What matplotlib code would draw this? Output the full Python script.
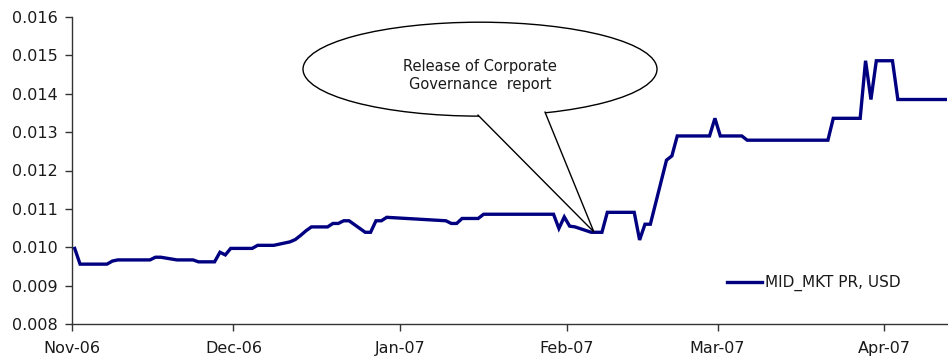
import matplotlib
matplotlib.use("Agg")
import matplotlib.pyplot as plt
import matplotlib.dates as mdates
from matplotlib.patches import Ellipse, Polygon
import pandas as pd

# daily mid-market price
dates = ["2006-11-01", "2006-11-02", "2006-11-07", "2006-11-08", "2006-11-09",
         "2006-11-15", "2006-11-16", "2006-11-17", "2006-11-20", "2006-11-23",
         "2006-11-24", "2006-11-27", "2006-11-28", "2006-11-29", "2006-11-30",
         "2006-12-04", "2006-12-05", "2006-12-08", "2006-12-11", "2006-12-12",
         "2006-12-13", "2006-12-14", "2006-12-15", "2006-12-18", "2006-12-19",
         "2006-12-20", "2006-12-21", "2006-12-22", "2006-12-25", "2006-12-26",
         "2006-12-27", "2006-12-28", "2006-12-29", "2007-01-09", "2007-01-10",
         "2007-01-11", "2007-01-12", "2007-01-15", "2007-01-16", "2007-01-29",
         "2007-01-30", "2007-01-31", "2007-02-01", "2007-02-02", "2007-02-05",
         "2007-02-07", "2007-02-08", "2007-02-13", "2007-02-14", "2007-02-15",
         "2007-02-16", "2007-02-19", "2007-02-20", "2007-02-21", "2007-02-27",
         "2007-02-28", "2007-03-01", "2007-03-05", "2007-03-06", "2007-03-21",
         "2007-03-22", "2007-03-27", "2007-03-28", "2007-03-29", "2007-03-30",
         "2007-04-02", "2007-04-03", "2007-04-12"]
prices = [0.00997, 0.00956, 0.00956, 0.00964, 0.00967,
          0.00967, 0.00974, 0.00974, 0.00967, 0.00967,
          0.00962, 0.00962, 0.00987, 0.00980, 0.00997,
          0.00997, 0.01005, 0.01005, 0.01014, 0.01020,
          0.01031, 0.01043, 0.01053, 0.01053, 0.01062,
          0.01062, 0.01069, 0.01069, 0.01039, 0.01039,
          0.01069, 0.01069, 0.01078, 0.01069, 0.01062,
          0.01062, 0.01075, 0.01075, 0.01086, 0.01086,
          0.01049, 0.01079, 0.01055, 0.01053, 0.01039,
          0.01039, 0.01091, 0.01091, 0.01019, 0.01060,
          0.01060, 0.01227, 0.01238, 0.01290, 0.01290,
          0.01336, 0.01290, 0.01290, 0.01279, 0.01279,
          0.01336, 0.01336, 0.01486, 0.01385, 0.01486,
          0.01486, 0.01385, 0.01385]
series_name = "MID_MKT PR, USD"
callout_text = "Release of Corporate\nGovernance  report"
callout_date = "2007-02-06"
callout_value = 0.0104

navy = "#000080"
txt = "#1a1a1a"

x = pd.to_datetime(dates) + pd.Timedelta(hours=12)  # points sit mid-day

fig = plt.figure(figsize=(9.48, 3.56), dpi=100)
ax = fig.add_axes([72 / 948, 32 / 356, 874.8 / 948, 307 / 356])
ax.plot(x, prices, color=navy, lw=2.4, label=series_name, zorder=3,
        solid_joinstyle="miter")

start = pd.Timestamp("2006-11-01")
ax.set_xlim(start, start + pd.Timedelta(days=162.6))
ax.set_ylim(0.008, 0.016)
ax.set_yticks([0.008 + 0.001 * i for i in range(9)])
ax.yaxis.set_major_formatter(plt.FormatStrFormatter("%.3f"))
ax.xaxis.set_major_locator(mdates.MonthLocator())
ax.xaxis.set_major_formatter(mdates.DateFormatter("%b-%y"))

for s in ["top", "right"]:
    ax.spines[s].set_visible(False)
for s in ["left", "bottom"]:
    ax.spines[s].set_color("#333333")
    ax.spines[s].set_linewidth(1)
ax.tick_params(axis="both", direction="out", length=5, width=1,
               color="#333333", labelsize=11.5, labelcolor=txt)
ax.tick_params(axis="y", pad=5)
ax.tick_params(axis="x", pad=7)

# callout bubble
d0 = mdates.date2num(start)
px = 5.38  # pixels per day
py = 38400  # pixels per unit price
ell_c = (d0 + (480 - 72) / px, 0.008 + (324 - 69) / py)
ell = Ellipse(ell_c, 354 / px, 94 / py, facecolor="white", edgecolor="black",
              lw=1, zorder=4, clip_on=False)
ax.add_patch(ell)
tip = (mdates.date2num(pd.Timestamp(callout_date)), callout_value)
b1 = (d0 + (478 - 72) / px, 0.008 + (324 - 115) / py)
b2 = (d0 + (545 - 72) / px, 0.008 + (324 - 112) / py)
inner1 = (b1[0] + 2 / px, b1[1] + 6 / py)
inner2 = (b2[0] - 2 / px, b2[1] + 6 / py)
ax.add_patch(Polygon([inner1, b1, tip, b2, inner2], closed=True,
                     facecolor="white", edgecolor="none", zorder=4.5,
                     clip_on=False))
ax.plot([b1[0], tip[0], b2[0]], [b1[1], tip[1], b2[1]], color="black",
        lw=1, zorder=4.6, clip_on=False)
ax.text(ell_c[0], 0.008 + (324 - 75) / py, callout_text, ha="center",
        va="center", fontsize=10.5, color=txt, linespacing=1.25, zorder=5)

leg = ax.legend(loc="center left", bbox_to_anchor=(727 / 948, 0.205),
                bbox_transform=fig.transFigure, frameon=False, fontsize=11,
                handlelength=2.3, handletextpad=0.2, borderpad=0,
                borderaxespad=0)
for t in leg.get_texts():
    t.set_color(txt)

fig.savefig("out.png", dpi=100)
